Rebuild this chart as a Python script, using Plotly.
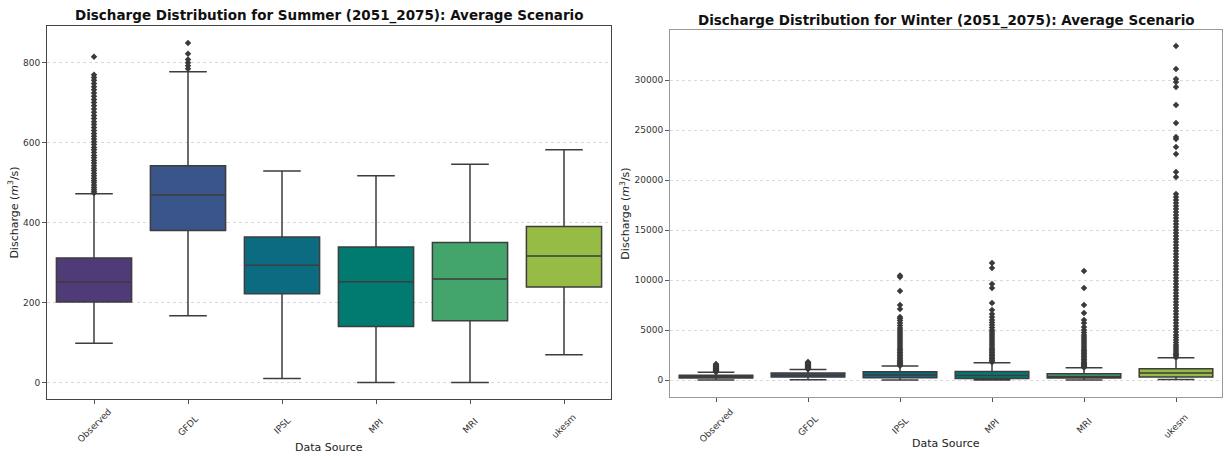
import plotly.graph_objects as go

categories = ["Observed", "GFDL", "IPSL", "MPI", "MRI", "ukesm"]
box_colors = ["#4f3b77", "#39558a", "#0b6b80", "#017a70", "#44a56c", "#97bc45"]

# Summer statistics (m3/s)
summer_q1 = [201, 380, 222, 140, 154, 239]
summer_median = [251, 469, 293, 252, 259, 316]
summer_q3 = [311, 542, 364, 339, 350, 390]
summer_low = [98, 167, 10, 0, 0, 69]
summer_high = [472, 777, 529, 517, 546, 582]
summer_outliers = {
    "Observed": [474, 478, 483, 488, 494, 500, 505, 511, 517, 523, 530, 536, 542, 549,
                 555, 562, 568, 575, 582, 588, 595, 602, 609, 616, 623, 630, 638, 645,
                 652, 660, 668, 676, 684, 692, 700, 708, 716, 724, 732, 740, 748, 756,
                 763, 770, 815],
    "GFDL": [785, 792, 800, 808, 822, 849],
}

# Winter statistics (m3/s)
winter_q1 = [200, 300, 230, 160, 190, 300]
winter_median = [300, 480, 500, 450, 360, 700]
winter_q3 = [480, 700, 820, 850, 620, 1130]
winter_low = [10, 30, 10, 0, 0, 60]
winter_high = [770, 1050, 1400, 1730, 1230, 2230]
winter_outliers = {
    "Observed": [800, 850, 900, 950, 1000, 1050, 1100, 1150, 1200, 1260, 1320, 1380,
                 1450, 1520, 1600],
    "GFDL": [1080, 1120, 1160, 1200, 1250, 1300, 1350, 1400, 1450, 1500, 1560, 1620,
             1680, 1750, 1800],
    "IPSL": [1420, 1500, 1600, 1700, 1800, 1900, 2000, 2150, 2300, 2450, 2600, 2750,
             2900, 3050, 3200, 3400, 3600, 3800, 4000, 4200, 4400, 4600, 4800, 5000,
             5200, 5450, 5700, 5950, 6150, 6300, 7100, 7500, 8900, 10300, 10450],
    "MPI": [1780, 1900, 2000, 2150, 2300, 2450, 2600, 2750, 2900, 3050, 3200, 3400,
            3600, 3800, 4000, 4200, 4400, 4600, 4800, 5000, 5250, 5500, 5750, 6000,
            6300, 6600, 7000, 7700, 9200, 9600, 11200, 11700],
    "MRI": [1250, 1350, 1450, 1550, 1650, 1750, 1900, 2050, 2200, 2350, 2500, 2650,
            2800, 2950, 3100, 3300, 3500, 3700, 3900, 4100, 4300, 4500, 4750, 5000,
            5300, 5700, 6000, 6700, 7500, 9200, 10900],
    "ukesm": [2250, 2400, 2550, 2700, 2900, 3100, 3300, 3500, 3750, 4000, 4250, 4500,
              4800, 5100, 5400, 5700, 6000, 6300, 6600, 6900, 7200, 7500, 7800, 8100,
              8400, 8700, 9000, 9300, 9600, 9900, 10200, 10500, 10800, 11100, 11400,
              11700, 12000, 12300, 12600, 12900, 13200, 13500, 13800, 14100, 14400,
              14700, 15000, 15300, 15600, 15900, 16200, 16500, 16800, 17100, 17400,
              17700, 18000, 18300, 18600, 20300, 20800, 22600, 23300, 24100, 24300,
              25700, 27500, 29300, 29800, 30100, 31100, 33400],
}

summer_yticks = [0, 200, 400, 600, 800]
winter_yticks = [0, 5000, 10000, 15000, 20000, 25000, 30000]

FONT = "DejaVu Sans"
EDGE = "#3d3d3d"

fig = go.Figure()


def add_panel(xa, ya, q1, med, q3, lo, hi, outliers):
    for i, cat in enumerate(categories):
        fig.add_trace(go.Box(
            x=[cat], q1=[q1[i]], median=[med[i]], q3=[q3[i]],
            lowerfence=[lo[i]], upperfence=[hi[i]],
            boxpoints=False, width=0.8, whiskerwidth=0.5,
            fillcolor=box_colors[i], line=dict(color=EDGE, width=1.5),
            xaxis=xa, yaxis=ya, showlegend=False, hoverinfo="skip",
        ))
        if cat in outliers:
            vals = outliers[cat]
            fig.add_trace(go.Scatter(
                x=[cat] * len(vals), y=vals, mode="markers",
                marker=dict(symbol="diamond", size=5, color="#3a3a3a"),
                xaxis=xa, yaxis=ya, showlegend=False, hoverinfo="skip",
            ))


add_panel("x", "y", summer_q1, summer_median, summer_q3, summer_low, summer_high, summer_outliers)
add_panel("x2", "y2", winter_q1, winter_median, winter_q3, winter_low, winter_high, winter_outliers)

W, H = 1227, 456
L_dom = [47 / W, 611 / W]
L_ydom = [1 - 399 / H, 1 - 26 / H]
R_dom = [670 / W, 1222 / W]
R_ydom = [1 - 397 / H, 1 - 30 / H]

xcommon = dict(type="category", categoryorder="array", categoryarray=categories,
               range=[-0.5, 5.5], showticklabels=False, ticks="outside", ticklen=4,
               tickcolor="#555", showgrid=False, zeroline=False, mirror=True,
               showline=True, automargin=False)
ycommon = dict(ticks="outside", ticklen=4, tickcolor="#555", showgrid=True,
               gridcolor="#d9d9d9", griddash="dot", gridwidth=1, zeroline=False,
               mirror=True, showline=True, automargin=False, tickformat="d",
               tickfont=dict(family=FONT, size=9, color="#333"))

fig.update_layout(
    width=W, height=H, margin=dict(l=0, r=0, t=0, b=0),
    paper_bgcolor="white", plot_bgcolor="white",
    font=dict(family=FONT, color="#222"),
    xaxis=dict(domain=L_dom, anchor="y", linecolor="#444", **xcommon),
    yaxis=dict(domain=L_ydom, anchor="x", range=[-41.5, 891.7], tickvals=summer_yticks,
               linecolor="#444",
               title=dict(text="Discharge (<i>m</i><sup>3</sup>/s)", standoff=2,
                          font=dict(family=FONT, size=11, color="#222")),
               **ycommon),
    xaxis2=dict(domain=R_dom, anchor="y2", linecolor="#999", **xcommon),
    yaxis2=dict(domain=R_ydom, anchor="x2", range=[-1700, 35000], tickvals=winter_yticks,
                linecolor="#999",
                title=dict(text="Discharge (<i>m</i><sup>3</sup>/s)", standoff=2,
                           font=dict(family=FONT, size=11, color="#222")),
                **ycommon),
)

annotations = []
# titles
annotations.append(dict(text="<b>Discharge Distribution for Summer (2051_2075): Average Scenario</b>",
                        x=329 / W, y=1 - 15 / H, xref="paper", yref="paper", showarrow=False,
                        xanchor="center", yanchor="middle", font=dict(family=FONT, size=13.5, color="#111")))
annotations.append(dict(text="<b>Discharge Distribution for Winter (2051_2075): Average Scenario</b>",
                        x=946 / W, y=1 - 21 / H, xref="paper", yref="paper", showarrow=False,
                        xanchor="center", yanchor="middle", font=dict(family=FONT, size=13.5, color="#111")))
# x titles
annotations.append(dict(text="Data Source", x=329 / W, y=1 - 447 / H, xref="paper", yref="paper",
                        showarrow=False, xanchor="center", yanchor="middle",
                        font=dict(family=FONT, size=11, color="#222")))
annotations.append(dict(text="Data Source", x=946 / W, y=1 - 443 / H, xref="paper", yref="paper",
                        showarrow=False, xanchor="center", yanchor="middle",
                        font=dict(family=FONT, size=11, color="#222")))
# category labels (rotated, centred under ticks)
for xr, ycen in (("x", 426), ("x2", 426)):
    for cat in categories:
        annotations.append(dict(text=cat, x=cat, xref=xr, y=1 - ycen / H, yref="paper",
                                showarrow=False, textangle=-45, xanchor="center",
                                yanchor="middle", font=dict(family=FONT, size=9, color="#333")))
fig.update_layout(annotations=annotations)

fig.write_html("out.html", config={"displayModeBar": False},
               post_script="document.body.style.margin='0';")
